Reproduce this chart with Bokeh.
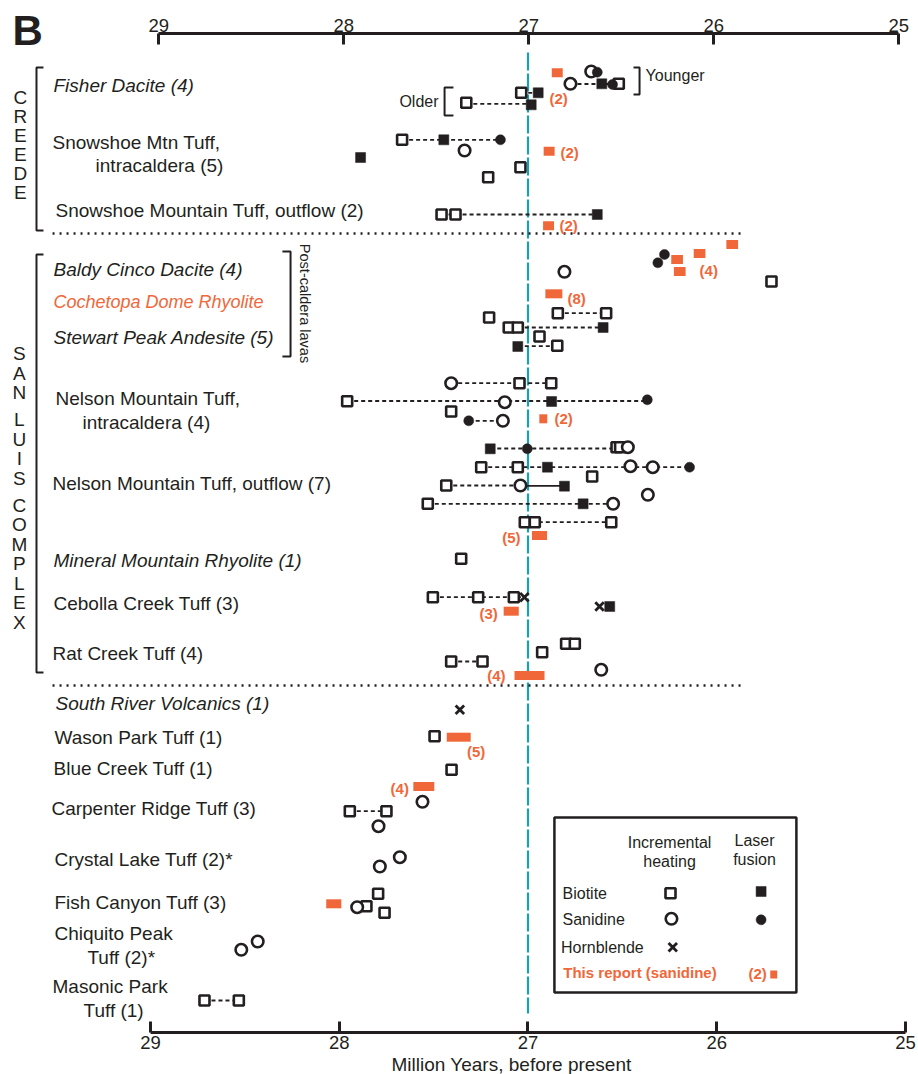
import math
from bokeh.plotting import figure
from bokeh.models import Range1d, LinearAxis, FixedTicker, Label
from bokeh.core.properties import value
from bokeh.embed import file_html
from bokeh.resources import INLINE

BLACK = "#231F20"
ORANGE = "#F0673A"
TEAL = "#1A9FB5"
FONT = "Liberation Sans"

# ---------------- DATA ----------------
# ages in Ma; "pos" = vertical row position on the chart (top = small)

# Biotite, incremental heating (open squares)
bio_ih_age = [26.519, 27.036, 27.327,
              27.667, 27.040, 27.211,
              27.458, 27.384,
              25.710,
              26.842, 26.586, 27.206, 27.102, 27.054, 26.939, 26.845,
              27.045, 26.877, 27.958, 27.407,
              26.531, 26.512, 27.248, 27.054, 26.660, 27.433, 27.531, 27.017, 26.964, 26.559,
              27.354,
              27.504, 27.264, 27.075,
              26.798, 26.752, 26.925, 27.407, 27.241,
              27.495, 27.405,
              27.944, 27.750,
              27.856, 27.794, 27.760,
              28.714, 28.532]
bio_ih_pos = [83.3, 92.3, 102.3,
              139.3, 166.7, 176.7,
              214, 214,
              281,
              312.7, 312.7, 317, 327, 327, 336, 345.3,
              382.7, 382.7, 400.7, 411,
              446.7, 446.7, 466.7, 466.7, 476, 485, 503.3, 521.7, 521.7, 521.7,
              558.3,
              596.7, 596.7, 596.7,
              643.3, 643.3, 651.7, 661, 661,
              735.7, 769.3,
              810.7, 810.7,
              905.7, 893.3, 912.3,
              1000, 1000]

# Biotite, laser fusion (filled squares)
bio_lf_age = [26.609, 26.946, 26.983, 27.446, 27.887, 26.633, 26.602, 27.054,
              26.875, 27.200, 26.897, 26.807, 26.708, 26.567]
bio_lf_pos = [83.3, 92.3, 104.3, 139.3, 157, 214, 327, 346,
              401, 448.3, 466.7, 485.7, 503.3, 606]

# Sanidine, incremental heating (open circles)
san_ih_age = [26.665, 26.775, 27.336, 26.807, 27.407, 27.123, 27.133, 26.471, 26.457,
              26.339, 27.040, 26.365, 26.549, 26.612, 27.559, 27.792, 27.679, 27.785,
              27.905, 28.519, 28.432]
san_ih_pos = [71, 83.3, 150, 271.3, 382.7, 401.7, 420.3, 446.7, 465.7,
              466.7, 485, 494.3, 503.3, 669.3, 801.3, 825.7, 856.7, 866,
              906.7, 949.3, 941]

# Sanidine, laser fusion (filled circles)
san_lf_age = [26.633, 26.552, 27.146, 26.277, 26.312, 26.368, 27.314, 27.004, 26.144]
san_lf_pos = [71.7, 84, 139.3, 254, 262.3, 399.3, 420.3, 448.3, 466.7]

# Hornblende (crosses)
hbl_age = [27.019, 26.621, 27.361]
hbl_pos = [596.7, 606, 709.3]

# This report (sanidine) - age and width of bar (Ma)
new_age = [26.845, 26.888, 26.891, 26.210, 26.196, 26.091, 25.918, 26.863,
           26.919, 26.939, 27.089, 26.992, 27.367, 27.552, 28.029]
new_pos = [72.3, 150.7, 225.3, 259, 271, 253, 244, 293.3,
           418.3, 535, 610.7, 675, 736.7, 786, 903.3]
new_err = [0.058, 0.058, 0.058, 0.062, 0.062, 0.062, 0.062, 0.090,
           0.042, 0.080, 0.080, 0.159, 0.127, 0.111, 0.080]

# number of analyses, this report
n_text = ["(2)", "(2)", "(2)", "(4)", "(8)", "(2)", "(5)", "(3)", "(4)", "(5)", "(4)"]
n_age = [26.886, 26.828, 26.833, 26.091, 26.791, 26.860, 27.137, 27.257, 27.216, 27.323, 27.728]
n_pos = [98, 152, 225, 270, 298, 418, 536.7, 613, 675, 750.7, 788]

# dashed links between results of one study
link_pos = [83.5, 92.3, 103.3, 139.3, 214, 312.7, 327, 345.7, 382.7, 400.5,
            420.3, 448, 466.7, 485, 503.3, 521.7, 596.7, 661, 810.7, 1000]
link_from = [26.775, 27.036, 27.327, 27.667, 27.458, 26.842, 27.054, 27.054, 27.407, 27.958,
             27.314, 27.200, 27.248, 27.433, 27.531, 27.017, 27.504, 27.407, 27.944, 28.714]
link_to = [26.519, 26.946, 26.983, 27.146, 26.633, 26.586, 26.602, 26.845, 26.877, 26.368,
           27.133, 26.519, 26.144, 27.040, 26.549, 26.559, 27.019, 27.241, 27.750, 28.532]
solid_pos = [485.3]
solid_from = [27.040]
solid_to = [26.807]

# unit names
name_text = ["Snowshoe Mtn Tuff,", "intracaldera (5)", "Snowshoe Mountain Tuff, outflow (2)",
             "Nelson Mountain Tuff,", "intracaldera (4)", "Nelson Mountain Tuff, outflow (7)",
             "Cebolla Creek Tuff (3)", "Rat Creek Tuff (4)", "Wason Park Tuff (1)",
             "Blue Creek Tuff (1)", "Carpenter Ridge Tuff (3)", "Crystal Lake Tuff (2)*",
             "Fish Canyon Tuff (3)", "Chiquito Peak", "Tuff (2)*", "Masonic Park", "Tuff (1)"]
name_x = [29.519, 29.291, 29.503, 29.503, 29.360, 29.519, 29.514, 29.519, 29.509,
          29.514, 29.525, 29.509, 29.509, 29.509, 29.334, 29.519, 29.355]
name_pos = [141.7, 165, 210, 398, 421.7, 483.3, 602.7, 652.7, 736.7,
            767.7, 808.3, 859.3, 901.7, 932.7, 956.7, 986, 1010]

lava_text = ["Fisher Dacite (4)", "Baldy Cinco Dacite (4)", "Stewart Peak Andesite (5)",
             "Mineral Mountain Rhyolite (1)", "South River Volcanics (1)"]
lava_x = [29.514, 29.514, 29.514, 29.514, 29.503]
lava_pos = [85, 269, 336.7, 560, 703.3]

new_unit_text = ["Cochetopa Dome Rhyolite"]
new_unit_x = [29.514]
new_unit_pos = [301]

group_creede = "CREEDE"
group_sanluis = "SAN LUIS COMPLEX"

x_ticks = [25, 26, 27, 28, 29]
x_title = "Million Years, before present"
reference_age = 27.0

# ---------------- FIGURE ----------------
W, H = 918, 1074
p = figure(width=W, height=H,
           x_range=Range1d(29.7947, 24.9311), y_range=Range1d(H, 0),
           output_backend="svg", toolbar_location=None,
           x_axis_location=None, y_axis_location=None,
           min_border_left=0, min_border_right=0, min_border_top=0, min_border_bottom=0)
p.outline_line_color = None
p.background_fill_color = "white"
p.border_fill_color = "white"
p.grid.visible = False

def style_axis(ax):
    ax.ticker = FixedTicker(ticks=x_ticks)
    ax.bounds = (25, 29)
    ax.axis_line_width = 3
    ax.axis_line_color = BLACK
    ax.major_tick_line_width = 3
    ax.major_tick_line_color = BLACK
    ax.major_tick_in = 11
    ax.major_tick_out = 0
    ax.minor_tick_in = 0
    ax.minor_tick_out = 0
    ax.major_label_text_font = FONT
    ax.major_label_text_font_size = "18.5px"
    ax.major_label_text_color = BLACK

bottom = LinearAxis(fixed_location=1031.7)
style_axis(bottom)
bottom.major_label_standoff = 4
p.add_layout(bottom, "below")

p.extra_x_ranges = {"top": Range1d(29.8557, 24.8935)}
top = LinearAxis(x_range_name="top", fixed_location=33.3)
style_axis(top)
top.major_label_standoff = 2
p.add_layout(top, "above")

# axis title (placed off-centre as in the original)
p.text(x=[27.087], y=[1064], text=[x_title], text_font=value(FONT), text_font_size="19px",
       text_color=BLACK, text_align="center", text_baseline="middle")

# reference line at 27 Ma
p.segment(x0=[reference_age], y0=[52], x1=[reference_age], y1=[1013],
          line_color=TEAL, line_width=2.2, line_dash="18 3")

# separators
p.segment(x0=[29.519, 29.519], y0=[233, 685], x1=[25.874, 25.874], y1=[233, 685],
          line_color=BLACK, line_width=2.5, line_dash="2 5")

# brackets
p.multi_line(xs=[[29.567, 29.604, 29.604, 29.567], [29.567, 29.604, 29.604, 29.567],
                 [28.301, 28.258, 28.258, 28.301], [27.395, 27.442, 27.442, 27.395],
                 [26.441, 26.409, 26.409, 26.441]],
             ys=[[67, 67, 230, 230], [254, 254, 672, 672], [251, 251, 356, 356],
                 [87, 87, 115, 115], [67, 67, 94, 94]],
             line_color=BLACK, line_width=2)

# links
p.segment(x0=link_from, y0=link_pos, x1=link_to, y1=link_pos,
          line_color=BLACK, line_width=1.8, line_dash="4 3")
p.segment(x0=solid_from, y0=solid_pos, x1=solid_to, y1=solid_pos,
          line_color=BLACK, line_width=1.8)

# this report bars
p.rect(x=new_age, y=new_pos, width=new_err, height=9, height_units="screen",
       fill_color=ORANGE, line_color=None)

# markers
p.scatter(x=bio_ih_age, y=bio_ih_pos, marker="square", size=10, line_width=2.6,
          line_color=BLACK, fill_color="white")
p.scatter(x=san_ih_age, y=san_ih_pos, marker="circle", size=11.5, line_width=2.6,
          line_color=BLACK, fill_color="white")
p.scatter(x=bio_lf_age, y=bio_lf_pos, marker="square", size=10, line_width=0.5,
          line_color=BLACK, fill_color=BLACK)
p.scatter(x=san_lf_age, y=san_lf_pos, marker="circle", size=10, line_width=0.5,
          line_color=BLACK, fill_color=BLACK)
p.scatter(x=hbl_age, y=hbl_pos, marker="x", size=12, line_width=2.8, line_color=BLACK)

# counts
p.text(x=n_age, y=n_pos, text=n_text, text_font=value(FONT), text_font_size="15px",
       text_font_style="bold", text_color=ORANGE, text_baseline="middle", text_align="left")

# unit names
p.text(x=name_x, y=name_pos, text=name_text, text_font=value(FONT), text_font_size="19px",
       text_color=BLACK, text_baseline="middle", text_align="left")
p.text(x=lava_x, y=lava_pos, text=lava_text, text_font=value(FONT), text_font_size="19px",
       text_font_style="italic", text_color=BLACK, text_baseline="middle", text_align="left")
p.text(x=new_unit_x, y=new_unit_pos, text=new_unit_text, text_font=value(FONT),
       text_font_size="18px", text_font_style="italic", text_color=ORANGE,
       text_baseline="middle", text_align="left")

# group letters
cre_pos = [97 + 19 * i for i in range(len(group_creede))]
p.text(x=[29.689] * len(group_creede), y=cre_pos, text=list(group_creede),
       text_font=value(FONT), text_font_size="19px", text_color=BLACK,
       text_align="center", text_baseline="middle")
sl_letters, sl_pos, y0 = [], [], 353
for ch in group_sanluis:
    if ch == " ":
        y0 += 7.5
        continue
    sl_letters.append(ch)
    sl_pos.append(y0)
    y0 += 19.5
p.text(x=[29.695] * len(sl_letters), y=sl_pos, text=sl_letters,
       text_font=value(FONT), text_font_size="19px", text_color=BLACK,
       text_align="center", text_baseline="middle")

# side notes
p.text(x=[28.184], y=[303], text=["Post-caldera lavas"], angle=-math.pi / 2,
       text_font=value(FONT), text_font_size="14.5px", text_color=BLACK,
       text_align="center", text_baseline="middle")
p.text(x=[27.474], y=[101], text=["Older"], text_font=value(FONT), text_font_size="16px",
       text_color=BLACK, text_align="right", text_baseline="middle")
p.text(x=[26.377], y=[75], text=["Younger"], text_font=value(FONT), text_font_size="16px",
       text_color=BLACK, text_align="left", text_baseline="middle")

# legend box
p.quad(left=[26.860], right=[25.578], top=[817], bottom=[992],
       fill_color="white", line_color=BLACK, line_width=2.5)
p.text(x=[26.250, 26.250, 25.800, 25.800], y=[841.7, 860.7, 840, 859.3],
       text=["Incremental", "heating", "Laser", "fusion"],
       text_font=value(FONT), text_font_size="16px", text_color=BLACK,
       text_align="center", text_baseline="middle")
p.text(x=[26.817, 26.817, 26.825], y=[892.7, 919.3, 946.7],
       text=["Biotite", "Sanidine", "Hornblende"],
       text_font=value(FONT), text_font_size="16px", text_color=BLACK,
       text_align="left", text_baseline="middle")
p.scatter(x=[26.245], y=[892.7], marker="square", size=10, line_width=2.6,
          line_color=BLACK, fill_color="white")
p.scatter(x=[26.240], y=[918.3], marker="circle", size=11.5, line_width=2.6,
          line_color=BLACK, fill_color="white")
p.scatter(x=[25.765], y=[891], marker="square", size=10, line_width=0.5,
          line_color=BLACK, fill_color=BLACK)
p.scatter(x=[25.765], y=[919.3], marker="circle", size=10, line_width=0.5,
          line_color=BLACK, fill_color=BLACK)
p.scatter(x=[26.233], y=[946.7], marker="x", size=12, line_width=2.8, line_color=BLACK)
p.text(x=[26.813], y=[972.3], text=["This report (sanidine)"], text_font=value(FONT),
       text_font_size="15px", text_font_style="bold", text_color=ORANGE,
       text_align="left", text_baseline="middle")
p.text(x=[25.832], y=[973], text=["(2)"], text_font=value(FONT),
       text_font_size="15px", text_font_style="bold", text_color=ORANGE,
       text_align="left", text_baseline="middle")
p.rect(x=[25.698], y=[974], width=[0.037], height=8, height_units="screen",
       fill_color=ORANGE, line_color=None)

# panel letter
p.add_layout(Label(x=29.731, y=30, text="B", text_font=FONT, text_font_size="42px",
                   text_font_style="bold", text_color=BLACK,
                   text_align="left", text_baseline="middle"))

open("out.html", "w").write(file_html(p, INLINE))
